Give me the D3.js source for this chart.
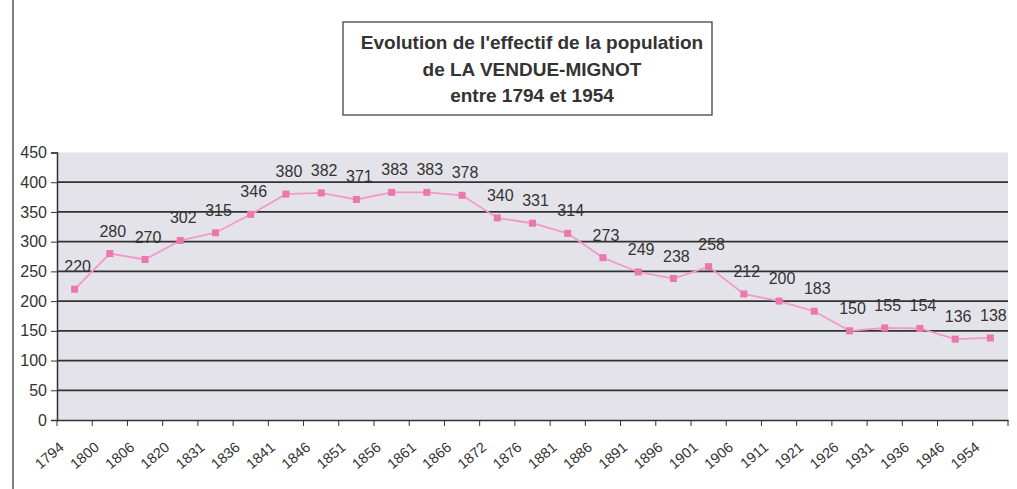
<!DOCTYPE html>
<html><head><meta charset="utf-8">
<script src="https://cdn.jsdelivr.net/npm/d3@7"></script>
<style>body{margin:0;background:#fff}svg{display:block}text{font-family:"Liberation Sans",Arial,sans-serif}</style>
</head><body>
<script>
const years = ["1794","1800","1806","1820","1831","1836","1841","1846","1851","1856","1861","1866","1872","1876","1881","1886","1891","1896","1901","1906","1911","1921","1926","1931","1936","1946","1954"];
const population = [220,280,270,302,315,346,380,382,371,383,383,378,340,331,314,273,249,238,258,212,200,183,150,155,154,136,138];
const yTicks = [0,50,100,150,200,250,300,350,400,450];
const titleLines = ["Evolution de l'effectif de la population","de LA VENDUE-MIGNOT","entre 1794 et 1954"];

const W=1017,H=489;
const svg=d3.select("body").append("svg").attr("width",W).attr("height",H);
const m={l:57,r:1008,t:152.5,b:420};
const x=d3.scaleBand().domain(years).range([m.l,m.r]);
const y=d3.scaleLinear().domain([0,450]).range([m.b,m.t]);

// outer left border
svg.append("line").attr("x1",13).attr("x2",13).attr("y1",0).attr("y2",H).attr("stroke","#555").attr("stroke-width",1.5);

// plot bg
svg.append("rect").attr("x",m.l).attr("y",m.t).attr("width",m.r-m.l).attr("height",m.b-m.t).attr("fill","#e3e3e9");

// gridlines
svg.append("g").selectAll("line").data(yTicks.filter(d=>d>0&&d<450)).join("line")
  .attr("x1",m.l).attr("x2",m.r).attr("y1",d=>y(d)).attr("y2",d=>y(d))
  .attr("stroke","#333").attr("stroke-width",1.8);

// y axis
const ya=svg.append("g").attr("transform",`translate(${m.l},0)`)
  .call(d3.axisLeft(y).tickValues(yTicks).tickSize(6).tickPadding(4));
ya.select(".domain").attr("stroke","#333").attr("stroke-width",1.5);
ya.selectAll(".tick line").attr("stroke","#333");
ya.selectAll("text").attr("font-size",16).attr("fill","#333").style("font-family","Liberation Sans, Arial, sans-serif");

// x axis
const xa=svg.append("g").attr("transform",`translate(0,${m.b})`)
  .call(d3.axisBottom(x).tickSize(0).tickFormat(""));
xa.select(".domain").attr("stroke","#333").attr("stroke-width",1.5);
const edges=years.map(d=>x(d)).concat([m.r]);
svg.append("g").selectAll("line").data(edges).join("line")
  .attr("x1",d=>d).attr("x2",d=>d).attr("y1",m.b).attr("y2",m.b+6).attr("stroke","#333");
svg.append("g").selectAll("text").data(years).join("text")
  .attr("transform",d=>`translate(${x(d)+x.bandwidth()/2-13},${m.b+25}) rotate(-40)`)
  .attr("text-anchor","end").attr("dy","0.35em").attr("font-size",14.5).attr("fill","#333").text(d=>d);

// line
const pts=years.map((d,i)=>[x(d)+x.bandwidth()/2,y(population[i])]);
svg.append("path").attr("d",d3.line()(pts)).attr("fill","none").attr("stroke","#f29ac4").attr("stroke-width",1.8);
svg.append("g").selectAll("rect").data(pts).join("rect")
  .attr("x",d=>d[0]-3.5).attr("y",d=>d[1]-3.5).attr("width",7).attr("height",7).attr("fill","#ea78ae");

// labels
svg.append("g").selectAll("text").data(population).join("text")
  .attr("x",(d,i)=>pts[i][0]+3).attr("y",(d,i)=>pts[i][1]-17)
  .attr("text-anchor","middle").attr("font-size",16).attr("fill","#333").text(d=>d);

// title box
svg.append("rect").attr("x",343).attr("y",22).attr("width",369).attr("height",93)
  .attr("fill","#fff").attr("stroke","#444").attr("stroke-width",1.3);
svg.append("g").selectAll("text").data(titleLines).join("text")
  .attr("x",532).attr("y",(d,i)=>49+i*26.5).attr("text-anchor","middle")
  .attr("font-size",19).attr("font-weight","bold").attr("fill","#333").text(d=>d);
</script>
</body></html>
